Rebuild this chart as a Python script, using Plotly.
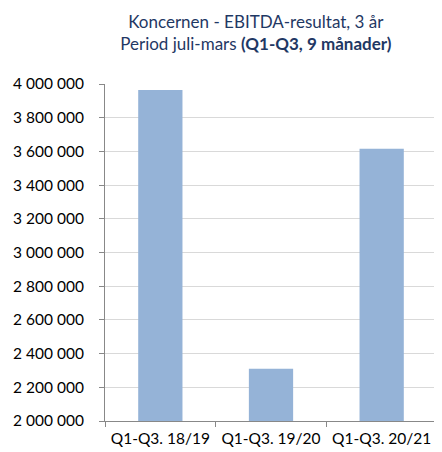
import plotly.graph_objects as go

# Koncernen EBITDA-resultat, Q1-Q3 per år
perioder = ["Q1-Q3. 18/19", "Q1-Q3. 19/20", "Q1-Q3. 20/21"]
ebitda = [3965000, 2310000, 3615000]

y_ticks = [2000000, 2200000, 2400000, 2600000, 2800000, 3000000,
           3200000, 3400000, 3600000, 3800000, 4000000]

fig = go.Figure()
fig.add_bar(x=perioder, y=ebitda, marker=dict(color="#95B3D7", line=dict(width=0)))

# sidan har 8px body-marginal, därför mindre figur och marginaler
fig.update_layout(
    width=434, height=444,
    margin=dict(l=93, r=5, t=76, b=28),
    paper_bgcolor="white", plot_bgcolor="white",
    font=dict(family="Lato, Open Sans, sans-serif", size=15.5, color="#000000"),
    separators=", ",
    bargap=0.6,
    showlegend=False,
    title=dict(
        text="Koncernen - EBITDA-resultat, 3 år<br>Period juli-mars <b>(Q1-Q3, 9 månader)</b>",
        x=0.571, xanchor="center", y=0.955, yanchor="top",
        font=dict(size=17, color="#1F3864"),
    ),
)
fig.update_yaxes(
    range=[2000000, 4000000], tickvals=y_ticks, tickformat=",d",
    showgrid=True, gridcolor="#D9D9D9", gridwidth=1,
    showline=True, linecolor="#888888", linewidth=1,
    ticks="outside", ticklen=5, tickcolor="#888888",
    ticklabelstandoff=12,
    zeroline=False,
)
fig.update_xaxes(
    showline=True, linecolor="#888888", linewidth=1,
    ticks="outside", tickson="boundaries", ticklen=5, tickcolor="#888888",
    ticklabelstandoff=3,
    showgrid=False,
)

fig.write_html("out.html")
